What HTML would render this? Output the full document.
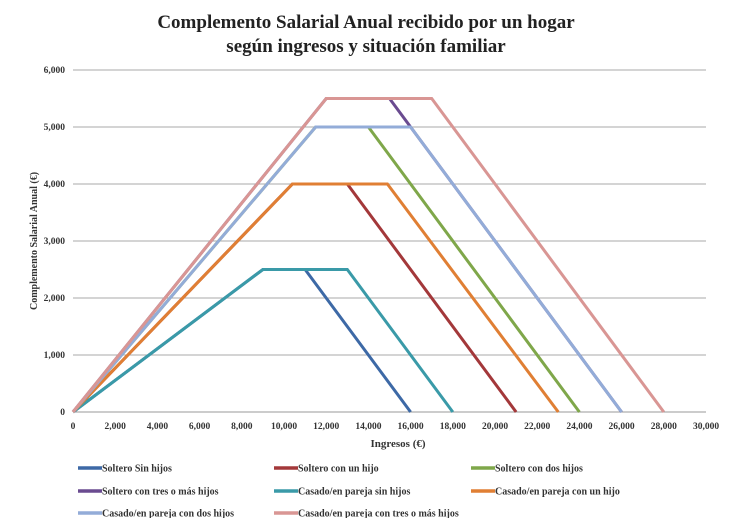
<!DOCTYPE html>
<html><head><meta charset="utf-8"><style>
body{margin:0;background:#fff;}
svg{display:block;font-family:"Liberation Serif",serif;}
</style></head><body>
<svg id="chart" width="730" height="518">
<text x="366" y="28" text-anchor="middle" font-size="19" font-weight="bold" fill="#222">Complemento Salarial Anual recibido por un hogar</text>
<text x="366" y="52" text-anchor="middle" font-size="19" font-weight="bold" fill="#222">según ingresos y situación familiar</text>
<g id="grid"></g><g id="series"></g><g id="axes"></g><g id="legend"></g>
<text x="398" y="447" text-anchor="middle" font-size="11" font-weight="bold" fill="#333">Ingresos (€)</text>
<text transform="translate(37,241) rotate(-90)" text-anchor="middle" font-size="10" font-weight="bold" fill="#333">Complemento Salarial Anual (€)</text>
</svg>
<script>
const seriesNames=["Soltero Sin hijos","Soltero con un hijo","Soltero con dos hijos","Soltero con tres o más hijos","Casado/en pareja sin hijos","Casado/en pareja con un hijo","Casado/en pareja con dos hijos","Casado/en pareja con tres o más hijos"];
const seriesColors=["#3d69a6","#a3383a","#7fa74a","#6a4b90","#3a9aa8","#e07f34","#93acd8","#d99694"];
const seriesX=[[0,9000,11000,16000],[0,10400,13000,21000],[0,11500,14000,24000],[0,12000,15000,26000],[0,9000,13000,18000],[0,10400,14900,23000],[0,11500,16000,26000],[0,12000,17000,28000]];
const seriesY=[[0,2500,2500,0],[0,4000,4000,0],[0,5000,5000,0],[0,5500,5500,0],[0,2500,2500,0],[0,4000,4000,0],[0,5000,5000,0],[0,5500,5500,0]];
const drawOrder=[3,0,1,2,4,5,6,7];
const xTicks=[0,2000,4000,6000,8000,10000,12000,14000,16000,18000,20000,22000,24000,26000,28000,30000];
const yTicks=[0,1000,2000,3000,4000,5000,6000];
const NS="http://www.w3.org/2000/svg";
const X0=73,X1=706,Y0=412,Y1=70;
function sx(v){return X0+(v/30000)*(X1-X0);}
function sy(v){return Y0-(v/6000)*(Y0-Y1);}
function mk(t,a,p){const e=document.createElementNS(NS,t);for(const k in a)e.setAttribute(k,a[k]);p.appendChild(e);return e;}
const fmt=v=>v.toLocaleString("en-US");
const grid=document.getElementById("grid"),axes=document.getElementById("axes"),ser=document.getElementById("series"),leg=document.getElementById("legend");
yTicks.forEach(v=>{
 const l=mk("line",{x1:X0,x2:X1,y1:sy(v),y2:sy(v),stroke:v===0?"#999":"#aaa","stroke-width":1},grid);
 
 
 const t=mk("text",{x:X0-8,y:sy(v)+3,"text-anchor":"end","font-size":9.5,"font-weight":600,fill:"#333"},axes);
 t.textContent=fmt(v);
 
 
});
xTicks.forEach(v=>{
 const t=mk("text",{x:sx(v),y:Y0+17,"text-anchor":"middle","font-size":9.5,"font-weight":600,fill:"#333"},axes);
 t.textContent=fmt(v);
 
 
});
drawOrder.forEach(i=>{
 const pts=seriesX[i].map((x,j)=>sx(x)+","+sy(seriesY[i][j])).join(" ");
 const p=mk("polyline",{points:pts,fill:"none",stroke:seriesColors[i],"stroke-width":3,"stroke-linejoin":"miter"},ser);
 
 
});
const colX=[78,274,471],rowY=[468,491,513];
seriesNames.forEach((n,i)=>{
 const x=colX[i%3],y=rowY[Math.floor(i/3)];
 const g=mk("g",{},leg);
 
 
 mk("line",{x1:x,x2:x+24,y1:y,y2:y,stroke:seriesColors[i],"stroke-width":3.5},g);
 const t=mk("text",{x:x+24,y:y+3.5,"font-size":10,"font-weight":600,fill:"#333"},g);
 t.textContent=n;
});
</script>
</body></html>
